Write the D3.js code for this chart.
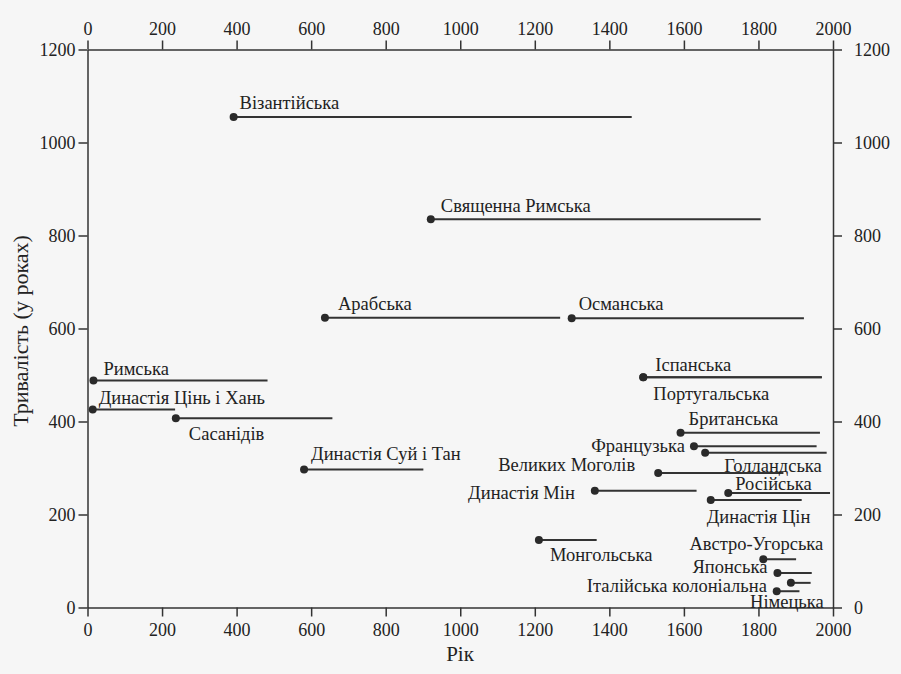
<!DOCTYPE html>
<html>
<head>
<meta charset="utf-8">
<script src="https://cdn.jsdelivr.net/npm/d3@7"></script>
<style>
    body { margin: 0; background: #f6f6f6; }
    svg { display: block; }
    text { font-family: "Liberation Serif", serif; fill: #222; }
    .axis path, .axis line { stroke: #333; stroke-width: 1.5; }
    .axis text { font-size: 18px; font-family: "Liberation Serif", serif; }
    .empire-label { font-size: 18.5px; }
</style>
</head>
<body>
<div id="chart"></div>
<script>
// Empires: start year, duration (years), end year as drawn
const names = ['Візантійська', 'Священна Римська', 'Арабська', 'Османська', 'Римська',
    'Династія Цінь і Хань', 'Сасанідів', 'Династія Суй і Тан', 'Іспанська', 'Португальська',
    'Британська', 'Французька', 'Голландська', 'Великих Моголів', 'Династія Мін', 'Російська',
    'Династія Цін', 'Монгольська', 'Австро-Угорська', 'Японська', 'Італійська колоніальна', 'Німецька'];
const startYears = [392, 921, 637, 1299, 16, 14, 237, 581, 1491, 1491,
    1591, 1627, 1657, 1531, 1361, 1719, 1672, 1211, 1813, 1851, 1887, 1849];
const durations = [1055, 835, 623, 622, 488, 426, 407, 297, 495, 495,
    376, 347, 333, 289, 251, 246, 231, 145, 104, 74, 53, 35];
const endYears = [1460, 1806, 1268, 1922, 483, 235, 657, 901, 1970, 1970,
    1965, 1956, 1983, 1867, 1634, 1992, 1916, 1366, 1901, 1943, 1940, 1910];

const xTicks = [0, 200, 400, 600, 800, 1000, 1200, 1400, 1600, 1800, 2000];
const yTicks = [0, 200, 400, 600, 800, 1000, 1200];

// label placement relative to the dot: [dx, dy, anchor]
const labelOffsets = [
    [6, -8, 'start'], [10, -7, 'start'], [13, -8, 'start'], [7, -8, 'start'], [10, -6, 'start'],
    [6, -5, 'start'], [13, 22, 'start'], [7, -9, 'start'], [12, -6, 'start'], [10, 23, 'start'],
    [8, -8, 'start'], [-9, 6, 'end'], [19, 19, 'start'], [-23, -2, 'end'], [-20, 8, 'end'],
    [7, -3, 'start'], [-4, 23, 'start'], [11, 21, 'start'], [60, -9, 'end'], [-10, 0, 'end'],
    [-24, 9, 'end'], [47, 17, 'end']
];

const data = names.map((name, i) => ({
    name: name,
    start: startYears[i],
    duration: durations[i],
    end: endYears[i],
    offset: labelOffsets[i]
}));

const width = 901, height = 674;
const margin = { top: 49.5, right: 68, bottom: 66.5, left: 87.5 };

const svg = d3.select('#chart').append('svg')
    .attr('width', width)
    .attr('height', height);

const x = d3.scaleLinear()
    .domain([0, 2000])
    .range([margin.left, width - margin.right]);

const y = d3.scaleLinear()
    .domain([0, 1200])
    .range([height - margin.bottom, margin.top]);

// axes on all four sides
svg.append('g')
    .attr('class', 'axis')
    .attr('transform', `translate(0,${y(0)})`)
    .call(d3.axisBottom(x).tickValues(xTicks).tickSize(9).tickSizeOuter(0).tickPadding(7).tickFormat(d3.format('d')));

svg.append('g')
    .attr('class', 'axis')
    .attr('transform', `translate(0,${y(1200)})`)
    .call(d3.axisTop(x).tickValues(xTicks).tickSize(9).tickSizeOuter(0).tickPadding(6).tickFormat(d3.format('d')));

svg.append('g')
    .attr('class', 'axis')
    .attr('transform', `translate(${x(0)},0)`)
    .call(d3.axisLeft(y).tickValues(yTicks).tickSize(9).tickSizeOuter(0).tickPadding(3).tickFormat(d3.format('d')));

svg.append('g')
    .attr('class', 'axis')
    .attr('transform', `translate(${x(2000)},0)`)
    .call(d3.axisRight(y).tickValues(yTicks).tickSize(9).tickSizeOuter(0).tickPadding(12).tickFormat(d3.format('d')));

// axis titles
svg.append('text')
    .attr('x', 460)
    .attr('y', 661)
    .attr('text-anchor', 'middle')
    .style('font-size', '21px')
    .text('Рік');

svg.append('text')
    .attr('transform', 'translate(28,331) rotate(-90)')
    .attr('text-anchor', 'middle')
    .style('font-size', '22px')
    .text('Тривалість (у роках)');

// empire spans
const marks = svg.append('g');

marks.selectAll('line')
    .data(data)
    .enter()
    .append('line')
    .attr('x1', d => x(d.start))
    .attr('x2', d => x(d.end))
    .attr('y1', d => y(d.duration))
    .attr('y2', d => y(d.duration))
    .attr('stroke', '#333')
    .attr('stroke-width', 2);

marks.selectAll('circle')
    .data(data)
    .enter()
    .append('circle')
    .attr('cx', d => x(d.start))
    .attr('cy', d => y(d.duration))
    .attr('r', 4)
    .attr('fill', '#2a2a2a');

marks.selectAll('text')
    .data(data)
    .enter()
    .append('text')
    .attr('class', 'empire-label')
    .attr('x', d => x(d.start) + d.offset[0])
    .attr('y', d => y(d.duration) + d.offset[1])
    .attr('text-anchor', d => d.offset[2])
    .text(d => d.name);
</script>
</body>
</html>
